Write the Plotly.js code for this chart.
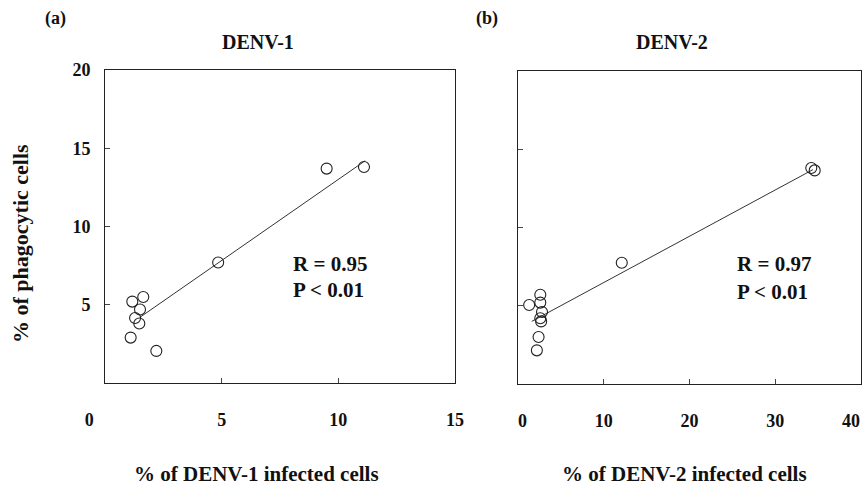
<!DOCTYPE html>
<html>
<head>
<meta charset="utf-8">
<script src="https://cdn.plot.ly/plotly-3.0.1.min.js"></script>
<style>html,body{margin:0;padding:0;background:#fff;}#chart{width:865px;height:489px;}</style>
</head>
<body>
<div id="chart"></div>
<script>
// DENV-1 panel
const denv1X = [9.5, 11.1, 4.85, 1.17, 1.64, 1.5, 1.29, 1.47, 1.1, 2.2];
const denv1Y = [13.7, 13.8, 7.7, 5.2, 5.5, 4.7, 4.15, 3.8, 2.9, 2.05];
const denv1FitX = [1.5, 11.15];
const denv1FitY = [4.2, 14.2];
// DENV-2 panel
const denv2X = [34.2, 34.6, 12.1, 1.3, 2.6, 2.6, 2.8, 2.6, 2.7, 2.4, 2.2];
const denv2Y = [13.8, 13.65, 7.75, 5.05, 5.7, 5.2, 4.6, 4.2, 4.0, 3.0, 2.15];
const denv2FitX = [1.6, 34.4];
const denv2FitY = [4.0, 13.7];
// Axis ticks
const x1Ticks = [0, 5, 10, 15];
const x1TickText = ['0\u00a0\u00a0\u00a0\u00a0\u00a0\u00a0\u00a0', '5', '10', '15'];
const x2Ticks = [0, 10, 20, 30];
const x2TickText = ['\u00a0\u00a00', '10', '20', '30'];
const x2EndTick = [40];
const x2EndText = ['40'];
const yTicks = [5, 10, 15, 20];
const panelTitles = ['DENV-1', 'DENV-2'];
const panelLetters = ['(a)', '(b)'];
const axisTitles = ['% of DENV-1 infected cells', '% of DENV-2 infected cells', '% of phagocytic cells'];
const stats = [['R = 0.95', 'P < 0.01'], ['R = 0.97', 'P < 0.01']];

const FONT = 'Liberation Serif';
const fontB = (s) => ({family: FONT, size: s, color: '#111', weight: 'bold'});

const marker = {symbol: 'circle-open', size: 11, color: '#222', line: {width: 1.1, color: '#222'}};

const traces = [
  {x: denv1FitX, y: denv1FitY, xaxis: 'x', yaxis: 'y', mode: 'lines', line: {color: '#333', width: 1}},
  {x: denv1X, y: denv1Y, xaxis: 'x', yaxis: 'y', mode: 'markers', marker: marker},
  {x: denv2FitX, y: denv2FitY, xaxis: 'x2', yaxis: 'y2', mode: 'lines', line: {color: '#333', width: 1}},
  {x: denv2X, y: denv2Y, xaxis: 'x2', yaxis: 'y2', mode: 'markers', marker: marker},
  {x: [], y: [], xaxis: 'x3', yaxis: 'y2', mode: 'markers'}
];

const axBase = {
  showgrid: false, zeroline: false, showline: true, linecolor: '#222', linewidth: 1,
  mirror: true, ticks: 'inside', ticklen: 5, tickcolor: '#444', automargin: false,
  tickfont: fontB(18), fixedrange: true, ticklabeloverflow: 'allow'
};

const ann = (x, y, text, size, xanchor, extra) => Object.assign({
  xref: 'paper', yref: 'paper', x: x / 865, y: 1 - y / 489, text: text, showarrow: false,
  font: fontB(size), xanchor: xanchor, yanchor: 'middle'
}, extra || {});

const layout = {
  width: 865, height: 489,
  margin: {l: 0, r: 0, t: 0, b: 0},
  paper_bgcolor: '#fff', plot_bgcolor: '#fff',
  showlegend: false,
  font: {family: FONT},
  xaxis: Object.assign({}, axBase, {
    domain: [105/865, 455/865], range: [0, 15.001], tickmode: 'array', tickvals: x1Ticks, ticktext: x1TickText,
    ticklabelstandoff: 20, anchor: 'y'
  }),
  yaxis: Object.assign({}, axBase, {
    domain: [(489-383)/489, (489-70)/489], range: [0, 20.001], tickmode: 'array', tickvals: yTicks,
    ticklabelstandoff: 10, anchor: 'x'
  }),
  xaxis2: Object.assign({}, axBase, {
    domain: [518/865, 861/865], range: [0, 40], tickmode: 'array', tickvals: x2Ticks, ticktext: x2TickText,
    ticklabelstandoff: 20, anchor: 'y2'
  }),
  xaxis3: Object.assign({}, axBase, {
    overlaying: 'x2', anchor: 'y2', range: [0, 40.001], tickmode: 'array', tickvals: x2EndTick, ticktext: x2EndText,
    ticklabelstandoff: 20, ticklabelshift: -10, showline: true, linecolor: 'rgba(0,0,0,0)',
    tickcolor: 'rgba(0,0,0,0)', mirror: false, side: 'bottom'
  }),
  yaxis2: Object.assign({}, axBase, {
    domain: [(489-384)/489, (489-71)/489], range: [0, 20.001], tickmode: 'array', tickvals: yTicks,
    showticklabels: false, anchor: 'x2'
  }),
  annotations: [
    ann(55, 18, panelLetters[0], 18, 'center'),
    ann(487, 18, panelLetters[1], 18, 'center'),
    ann(258, 42, panelTitles[0], 20, 'center'),
    ann(672, 42, panelTitles[1], 20, 'center'),
    ann(256, 474, axisTitles[0], 21, 'center'),
    ann(684, 474, axisTitles[1], 21, 'center'),
    ann(20, 244, axisTitles[2], 22, 'center', {textangle: -90}),
    ann(291, 264, stats[0][0], 21, 'left'),
    ann(291, 290, stats[0][1], 21, 'left'),
    ann(735, 264, stats[1][0], 21, 'left'),
    ann(735, 292, stats[1][1], 21, 'left')
  ]
};

Plotly.newPlot('chart', traces, layout, {displayModeBar: false, staticPlot: true});
</script>
</body>
</html>
